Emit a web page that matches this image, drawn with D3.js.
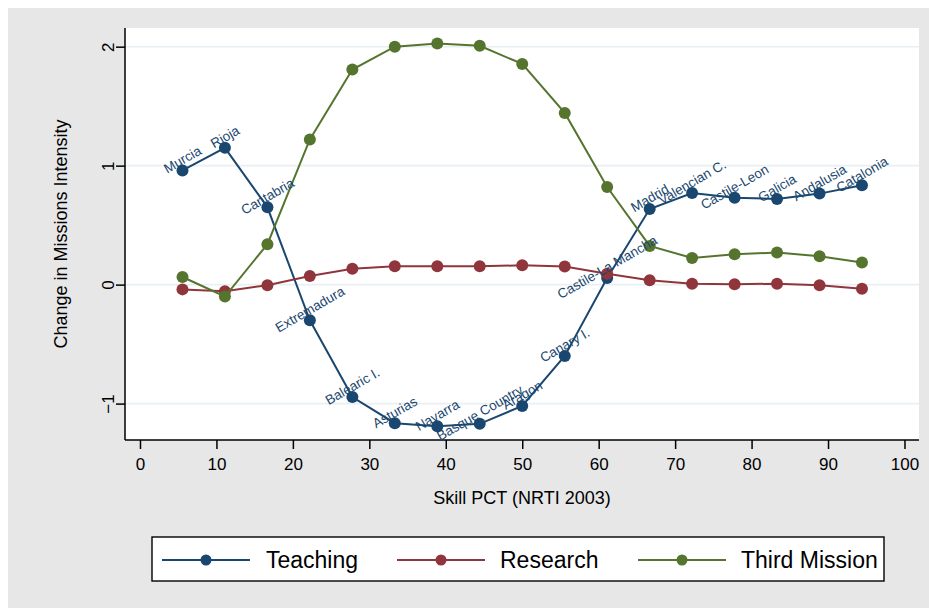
<!DOCTYPE html>
<html>
<head>
<meta charset="utf-8">
<script src="https://cdn.jsdelivr.net/npm/d3@7/dist/d3.min.js"></script>
<style>
  html, body { margin: 0; padding: 0; background: #ffffff; }
  svg { display: block; }
  text { font-family: Arial, "Liberation Sans", sans-serif; }
</style>
</head>
<body>
<svg id="chart" width="929" height="608"></svg>
<script>
// ---------------- DATA ----------------
const regions = ["Murcia", "Rioja", "Cantabria", "Extremadura", "Balearic I.", "Asturias",
  "Navarra", "Basque Country", "Aragon", "Canary I.", "Castile-La Mancha", "Madrid",
  "Valencian C.", "Castile-Leon", "Galicia", "Andalusia", "Catalonia"];
const skillPct = [5.56, 11.11, 16.67, 22.22, 27.78, 33.33, 38.89, 44.44, 50.0, 55.56,
  61.11, 66.67, 72.22, 77.78, 83.33, 88.89, 94.44];
const teaching = [0.96, 1.15, 0.65, -0.30, -0.945, -1.165, -1.19, -1.17, -1.02, -0.60,
  0.055, 0.635, 0.77, 0.73, 0.72, 0.765, 0.835];
const research = [-0.04, -0.055, -0.005, 0.072, 0.134, 0.155, 0.154, 0.154, 0.162, 0.152,
  0.092, 0.036, 0.008, 0.003, 0.008, -0.006, -0.034];
const thirdMission = [0.064, -0.10, 0.34, 1.22, 1.808, 2.0, 2.027, 2.007, 1.855, 1.443,
  0.82, 0.325, 0.224, 0.255, 0.27, 0.238, 0.185];
const seriesNames = ["Teaching", "Research", "Third Mission"];
const seriesColors = ["#1a476f", "#90353b", "#55752f"];
const xTicks = [0, 10, 20, 30, 40, 50, 60, 70, 80, 90, 100];
const yTicks = [-1, 0, 1, 2];
const xTitle = "Skill PCT (NRTI 2003)";
const yTitle = "Change in Missions Intensity";

// ---------------- LAYOUT ----------------
const svg = d3.select("#chart");
const W = 929, H = 608;
const plot = { left: 125, right: 919, top: 28, bottom: 440 };

// outer graph region
svg.append("rect").attr("x", 8).attr("y", 8).attr("width", W - 8).attr("height", H - 8)
  .attr("fill", "#e7e7e7");
// plot region
svg.append("rect").attr("x", plot.left).attr("y", plot.top)
  .attr("width", plot.right - plot.left).attr("height", plot.bottom - plot.top)
  .attr("fill", "#ffffff");

const x = d3.scaleLinear().domain([-1.96, 101.9]).range([plot.left, plot.right]);
const y = d3.scaleLinear().domain([-1.306, 2.157]).range([plot.bottom, plot.top]);

// gridlines
svg.append("g").selectAll("line").data(yTicks).join("line")
  .attr("x1", plot.left).attr("x2", plot.right)
  .attr("y1", d => y(d)).attr("y2", d => y(d))
  .attr("stroke", "#e9f0f3").attr("stroke-width", 1.6);

// axes
const xAxis = svg.append("g").attr("transform", `translate(0,${plot.bottom})`)
  .call(d3.axisBottom(x).tickValues(xTicks).tickSize(9).tickPadding(9).tickSizeOuter(0));
xAxis.select(".domain").attr("d", `M${plot.left},0H${plot.right}`)
  .attr("stroke", "#000").attr("stroke-width", 1.5);
xAxis.selectAll(".tick line").attr("stroke", "#000").attr("stroke-width", 1.5);
xAxis.selectAll(".tick text").attr("font-size", 17).attr("fill", "#000")
  .style("font-family", "Arial, 'Liberation Sans', sans-serif");

const yAxis = svg.append("g").attr("transform", `translate(${plot.left},0)`)
  .call(d3.axisLeft(y).tickValues(yTicks).tickSize(9).tickFormat(d3.format("d")).tickSizeOuter(0));
yAxis.select(".domain").attr("d", `M0,${plot.top}V${plot.bottom}`)
  .attr("stroke", "#000").attr("stroke-width", 1.5);
yAxis.selectAll(".tick line").attr("stroke", "#000").attr("stroke-width", 1.5);
yAxis.selectAll(".tick text").attr("font-size", 17).attr("fill", "#000")
  .attr("x", 0).attr("dy", 0).attr("text-anchor", "middle")
  .attr("transform", "translate(-11,0) rotate(-90)")
  .style("font-family", "Arial, 'Liberation Sans', sans-serif");

// axis titles
svg.append("text").attr("x", (plot.left + plot.right) / 2).attr("y", 504)
  .attr("text-anchor", "middle").attr("font-size", 18).attr("fill", "#000").text(xTitle);
svg.append("text").attr("transform", `translate(67,${(plot.top + plot.bottom) / 2}) rotate(-90)`)
  .attr("text-anchor", "middle").attr("font-size", 18).attr("fill", "#000").text(yTitle);

// series
const allSeries = [teaching, research, thirdMission];
const line = d3.line().x(d => x(d[0])).y(d => y(d[1]));
allSeries.forEach((vals, i) => {
  const pts = vals.map((v, j) => [skillPct[j], v]);
  const g = svg.append("g");
  g.append("path").datum(pts).attr("d", line).attr("fill", "none")
    .attr("stroke", seriesColors[i]).attr("stroke-width", 2);
  g.selectAll("circle").data(pts).join("circle")
    .attr("cx", d => x(d[0])).attr("cy", d => y(d[1])).attr("r", 6)
    .attr("fill", seriesColors[i]);
});

// marker labels on the Teaching series
svg.append("g").selectAll("text").data(regions).join("text")
  .attr("transform", (d, j) => `translate(${x(skillPct[j])},${y(teaching[j]) - 11}) rotate(-30)`)
  .attr("text-anchor", "middle").attr("dy", "0.35em")
  .attr("font-size", 13.5).attr("fill", seriesColors[0]).text(d => d);

// legend
const legend = svg.append("g");
legend.append("rect").attr("x", 152).attr("y", 537).attr("width", 732).attr("height", 44)
  .attr("fill", "#fff").attr("stroke", "#000").attr("stroke-width", 1.4);
const legendLineX = [162, 397, 638];
const legendTextX = [266, 500, 741];
seriesNames.forEach((name, i) => {
  legend.append("line").attr("x1", legendLineX[i]).attr("x2", legendLineX[i] + 88)
    .attr("y1", 560).attr("y2", 560).attr("stroke", seriesColors[i]).attr("stroke-width", 2);
  legend.append("circle").attr("cx", legendLineX[i] + 44).attr("cy", 560).attr("r", 5.5)
    .attr("fill", seriesColors[i]);
  legend.append("text").attr("x", legendTextX[i]).attr("y", 568)
    .attr("font-size", 23).attr("fill", "#000").text(name);
});
</script>
</body>
</html>
